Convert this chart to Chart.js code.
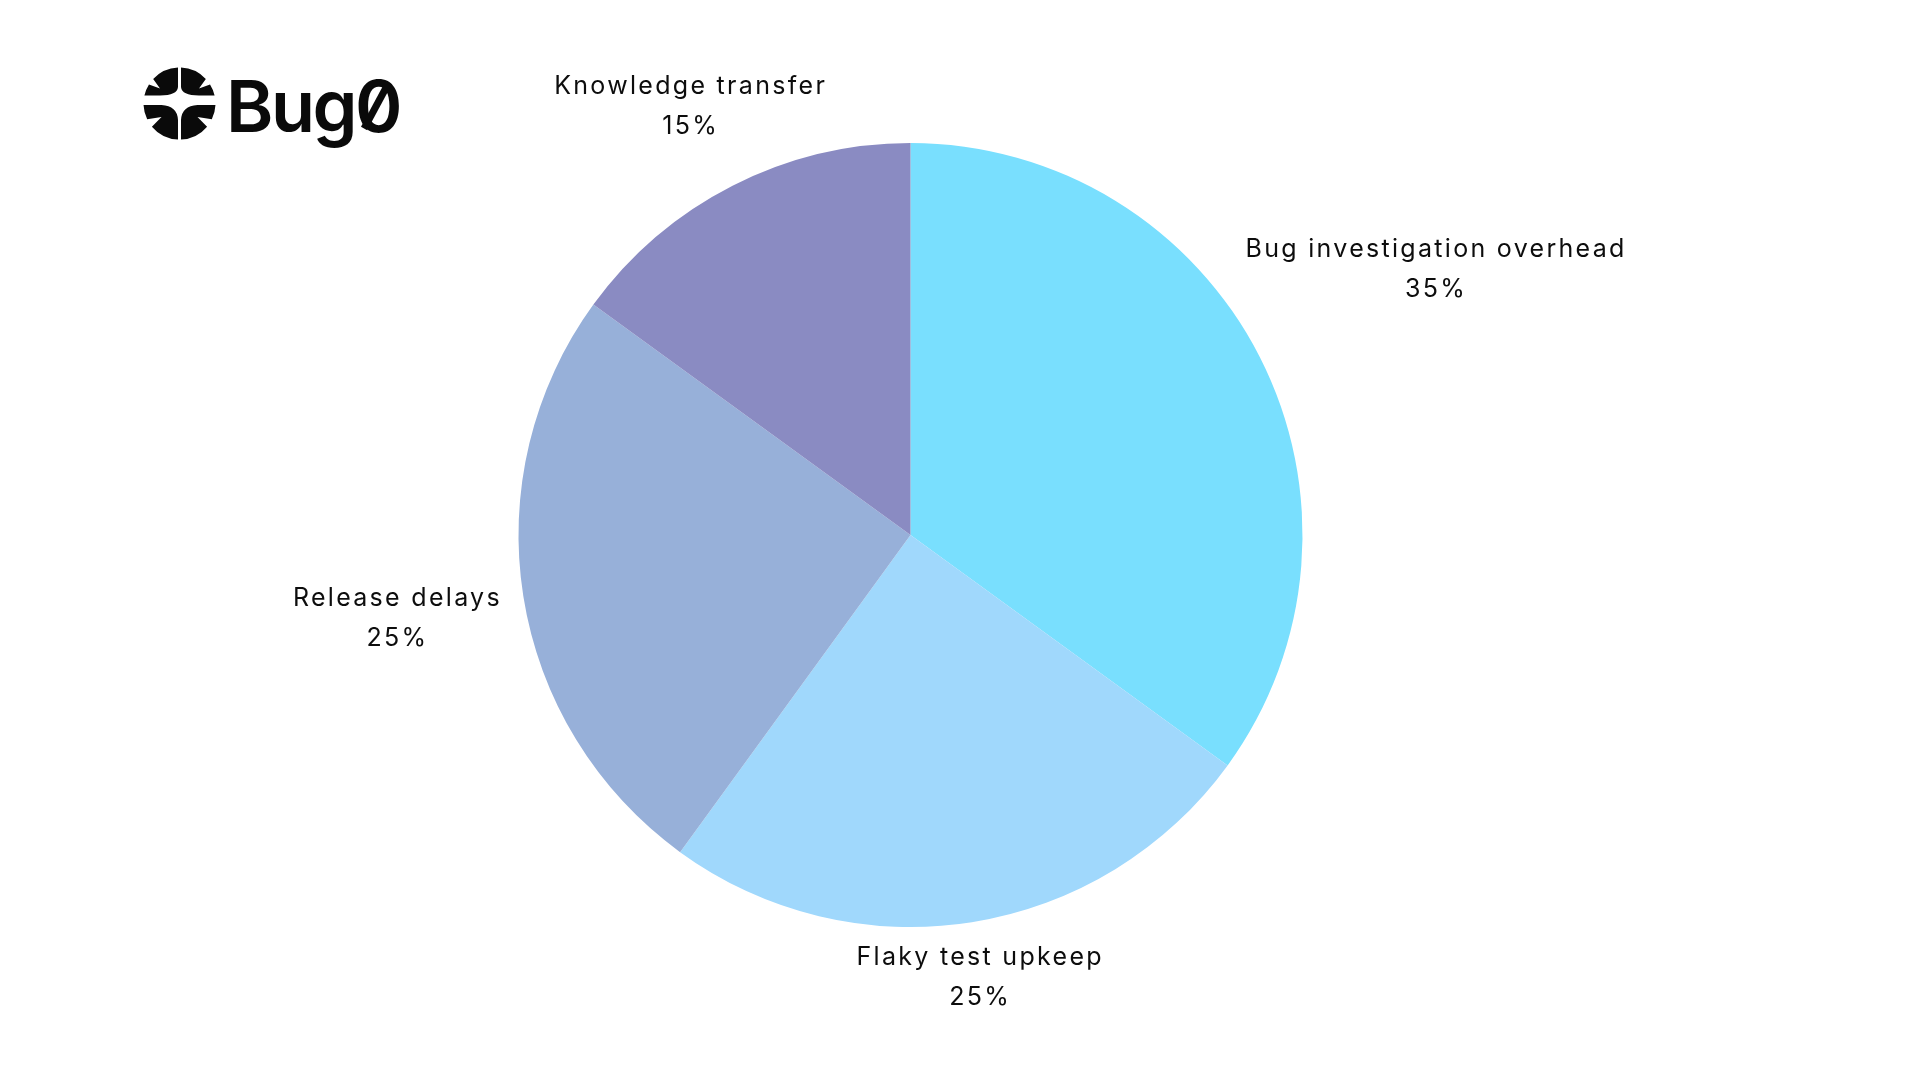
<!DOCTYPE html>
<html>
<head>
<meta charset="utf-8">
<script src="https://cdn.jsdelivr.net/npm/chart.js@4.4.1/dist/chart.umd.min.js"></script>
<style>
  html, body { margin: 0; background: #fff; }
  canvas { display: block; }
</style>
</head>
<body>
<canvas id="pie" width="1920" height="1080"></canvas>
<script>
// Where the QA time goes: pie with outside labels + Bug0 logo.

const categories = ['Bug investigation overhead', 'Flaky test upkeep', 'Release delays', 'Knowledge transfer'];
const shares = [35, 25, 25, 15];

const palette = ['#79dffe', '#a0d8fc', '#97b0d9', '#8a8bc2'];
const ink = '#0d0d0d';

// logo mark, quarter pieces in a 100x100 box (right side is mirrored)
const markTopLeft = new Path2D('M48,2.04 L48,28 Q47,39.3 24,39.3 L3.2,39.3 A48,48 0 0 1 9.3,24.6 L24,30 L14.9,17.3 A48,48 0 0 1 48,2.04 Z');
const markBottomLeft = new Path2D('M2.04,52 L26,52 Q47,53 48,72 L48,97.96 A48,48 0 0 1 13.2,80.9 L26,68 L6.9,71 A48,48 0 0 1 2.04,52 Z');

function drawLogo(ctx) {
  ctx.save();
  ctx.fillStyle = '#0a0a0a';
  ctx.translate(142, 66);
  ctx.scale(0.75, 0.75);
  ctx.fill(markTopLeft);
  ctx.fill(markBottomLeft);
  ctx.translate(100, 0);
  ctx.scale(-1, 1);
  ctx.fill(markTopLeft);
  ctx.fill(markBottomLeft);
  ctx.restore();

  ctx.save();
  ctx.fillStyle = '#0a0a0a';
  ctx.font = '600 72px Inter';
  ctx.letterSpacing = '-2.5px';
  ctx.textAlign = 'left';
  ctx.textBaseline = 'alphabetic';
  const x = 226, base = 131.5;
  ctx.fillText('Bug0', x, base);
  // slash through the zero
  const x0 = x + ctx.measureText('Bug').width;
  const x1 = x + ctx.measureText('Bug0').width;
  const zw = x1 - x0;
  ctx.strokeStyle = '#0a0a0a';
  ctx.lineWidth = 7;
  ctx.lineCap = 'butt';
  ctx.beginPath();
  ctx.moveTo(x0 + zw * 0.2, base - 3);
  ctx.lineTo(x1 - zw * 0.25, base - 49);
  ctx.stroke();
  ctx.restore();
}

const outsideLabels = {
  id: 'outsideLabels',
  afterDraw(chart) {
    const ctx = chart.ctx;
    const arcs = chart.getDatasetMeta(0).data;
    ctx.save();
    ctx.font = '25px Inter';
    ctx.letterSpacing = '2.3px';
    ctx.fillStyle = ink;
    ctx.textAlign = 'center';
    ctx.textBaseline = 'alphabetic';
    arcs.forEach((arc, i) => {
      const lines = [categories[i], shares[i] + '%'];
      const hw = Math.max(...lines.map(l => ctx.measureText(l).width)) / 2;
      const hh = 28;
      const mid = (arc.startAngle + arc.endAngle) / 2;
      const ux = Math.cos(mid), uy = Math.sin(mid);
      const target = arc.outerRadius + 20;
      // push the text box out along the ray until its nearest point clears the pie
      let lo = 0, hi = 3000;
      for (let k = 0; k < 50; k++) {
        const t = (lo + hi) / 2;
        const dx = Math.max(Math.abs(t * ux) - hw, 0);
        const dy = Math.max(Math.abs(t * uy) - hh, 0);
        if (Math.hypot(dx, dy) < target) lo = t; else hi = t;
      }
      const cx = arc.x + lo * ux, cy = arc.y + lo * uy;
      ctx.fillText(lines[0], cx, cy - 10);
      ctx.fillText(lines[1], cx, cy + 30);
    });
    ctx.restore();
    drawLogo(ctx);
  },
};

new Chart(document.getElementById('pie'), {
  type: 'pie',
  data: {
    labels: categories,
    datasets: [
      {
        data: shares,
        backgroundColor: palette,
        borderWidth: 0,
      },
    ],
  },
  options: {
    responsive: false,
    animation: false,
    events: [],
    layout: { padding: { left: 0, right: 99, top: 143, bottom: 153 } },
    plugins: {
      legend: { display: false },
      tooltip: { enabled: false },
    },
  },
  plugins: [outsideLabels],
});
</script>
</body>
</html>
